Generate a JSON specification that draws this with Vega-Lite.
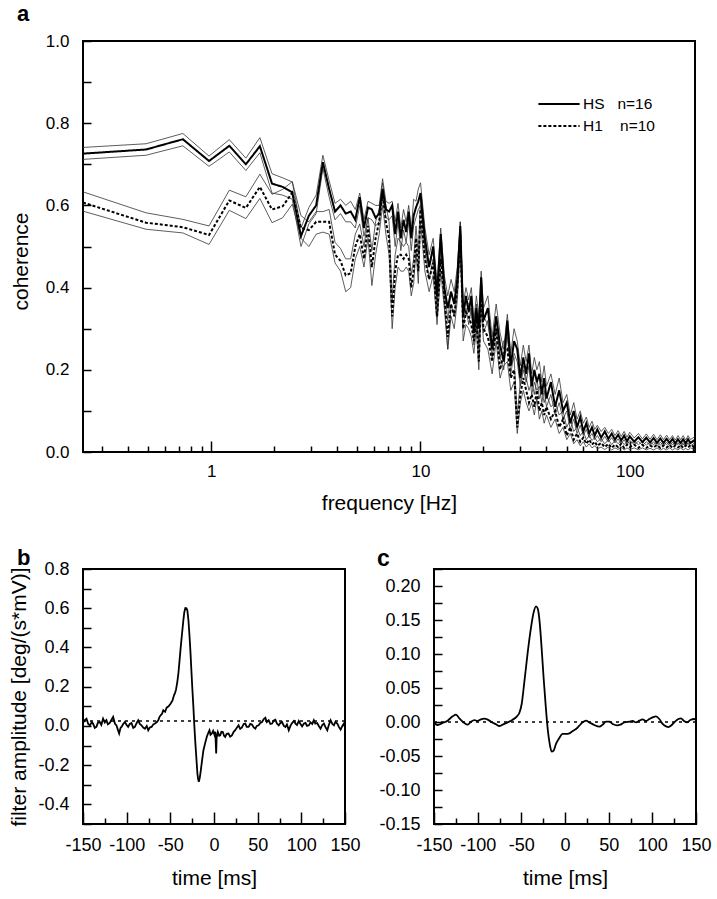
{
  "$schema": "https://vega.github.io/schema/vega-lite/v6.json",
  "background": "white",
  "padding": {"left": 7, "top": 2, "right": 0, "bottom": 0},
  "config": {
    "font": "Liberation Sans",
    "view": {"stroke": "black", "strokeWidth": 2},
    "axis": {"domain": false, "grid": false, "tickColor": "black", "tickWidth": 1.5, "labelColor": "black", "titleColor": "black", "labelFont": "Liberation Sans", "titleFont": "Liberation Sans", "titleFontWeight": "normal", "labelFlush": false, "labelOverlap": false, "labelBound": false},
    "title": {"font": "Liberation Sans", "fontWeight": "bold", "anchor": "start", "frame": "bounds", "color": "black"}
  },
  "datasets": {
    "coh": [
      {"f":0.2441,"hs":0.726,"hsl":0.712,"hsh":0.741,"h1":0.607,"h1l":0.586,"h1h":0.633},
      {"f":0.4883,"hs":0.736,"hsl":0.722,"hsh":0.750,"h1":0.558,"h1l":0.542,"h1h":0.582},
      {"f":0.7324,"hs":0.761,"hsl":0.745,"hsh":0.775,"h1":0.547,"h1l":0.533,"h1h":0.566},
      {"f":0.9766,"hs":0.708,"hsl":0.695,"hsh":0.720,"h1":0.528,"h1l":0.505,"h1h":0.550},
      {"f":1.2207,"hs":0.745,"hsl":0.730,"hsh":0.760,"h1":0.612,"h1l":0.588,"h1h":0.637},
      {"f":1.4648,"hs":0.700,"hsl":0.685,"hsh":0.715,"h1":0.594,"h1l":0.568,"h1h":0.621},
      {"f":1.709,"hs":0.744,"hsl":0.728,"hsh":0.765,"h1":0.645,"h1l":0.617,"h1h":0.676},
      {"f":1.9531,"hs":0.653,"hsl":0.630,"hsh":0.677,"h1":0.590,"h1l":0.558,"h1h":0.627},
      {"f":2.1973,"hs":0.645,"hsl":0.625,"hsh":0.667,"h1":0.598,"h1l":0.570,"h1h":0.639},
      {"f":2.4414,"hs":0.632,"hsl":0.615,"hsh":0.657,"h1":0.631,"h1l":0.603,"h1h":0.658},
      {"f":2.6855,"hs":0.525,"hsl":0.500,"hsh":0.545,"h1":0.545,"h1l":0.520,"h1h":0.575},
      {"f":2.9297,"hs":0.575,"hsl":0.555,"hsh":0.595,"h1":0.540,"h1l":0.500,"h1h":0.560},
      {"f":3.1738,"hs":0.600,"hsl":0.580,"hsh":0.625,"h1":0.560,"h1l":0.530,"h1h":0.585},
      {"f":3.418,"hs":0.705,"hsl":0.690,"hsh":0.722,"h1":0.560,"h1l":0.535,"h1h":0.585},
      {"f":3.6621,"hs":0.640,"hsl":0.620,"hsh":0.660,"h1":0.560,"h1l":0.530,"h1h":0.590},
      {"f":3.9063,"hs":0.585,"hsl":0.565,"hsh":0.605,"h1":0.480,"h1l":0.460,"h1h":0.510},
      {"f":4.1504,"hs":0.600,"hsl":0.580,"hsh":0.615,"h1":0.465,"h1l":0.440,"h1h":0.495},
      {"f":4.3945,"hs":0.580,"hsl":0.560,"hsh":0.600,"h1":0.430,"h1l":0.390,"h1h":0.470},
      {"f":4.6387,"hs":0.585,"hsl":0.560,"hsh":0.610,"h1":0.435,"h1l":0.400,"h1h":0.470},
      {"f":4.8828,"hs":0.565,"hsl":0.545,"hsh":0.590,"h1":0.500,"h1l":0.470,"h1h":0.530},
      {"f":5.127,"hs":0.620,"hsl":0.600,"hsh":0.630,"h1":0.530,"h1l":0.500,"h1h":0.555},
      {"f":5.3711,"hs":0.545,"hsl":0.525,"hsh":0.565,"h1":0.470,"h1l":0.450,"h1h":0.500},
      {"f":5.6152,"hs":0.595,"hsl":0.570,"hsh":0.610,"h1":0.550,"h1l":0.520,"h1h":0.570},
      {"f":5.8594,"hs":0.590,"hsl":0.565,"hsh":0.605,"h1":0.450,"h1l":0.405,"h1h":0.490},
      {"f":6.1035,"hs":0.570,"hsl":0.550,"hsh":0.600,"h1":0.520,"h1l":0.480,"h1h":0.560},
      {"f":6.3477,"hs":0.580,"hsl":0.560,"hsh":0.600,"h1":0.560,"h1l":0.530,"h1h":0.590},
      {"f":6.5918,"hs":0.640,"hsl":0.620,"hsh":0.665,"h1":0.630,"h1l":0.600,"h1h":0.655},
      {"f":6.8359,"hs":0.590,"hsl":0.570,"hsh":0.610,"h1":0.560,"h1l":0.530,"h1h":0.600},
      {"f":7.0801,"hs":0.585,"hsl":0.565,"hsh":0.605,"h1":0.520,"h1l":0.480,"h1h":0.560},
      {"f":7.3242,"hs":0.600,"hsl":0.575,"hsh":0.610,"h1":0.330,"h1l":0.300,"h1h":0.370},
      {"f":7.5684,"hs":0.530,"hsl":0.500,"hsh":0.560,"h1":0.440,"h1l":0.400,"h1h":0.480},
      {"f":7.8125,"hs":0.585,"hsl":0.560,"hsh":0.605,"h1":0.480,"h1l":0.450,"h1h":0.520},
      {"f":8.0566,"hs":0.520,"hsl":0.490,"hsh":0.545,"h1":0.480,"h1l":0.440,"h1h":0.510},
      {"f":8.3008,"hs":0.565,"hsl":0.540,"hsh":0.590,"h1":0.470,"h1l":0.440,"h1h":0.500},
      {"f":8.5449,"hs":0.535,"hsl":0.510,"hsh":0.560,"h1":0.480,"h1l":0.450,"h1h":0.510},
      {"f":8.7891,"hs":0.585,"hsl":0.560,"hsh":0.600,"h1":0.470,"h1l":0.440,"h1h":0.500},
      {"f":9.0332,"hs":0.520,"hsl":0.490,"hsh":0.540,"h1":0.400,"h1l":0.380,"h1h":0.430},
      {"f":9.2773,"hs":0.575,"hsl":0.550,"hsh":0.615,"h1":0.440,"h1l":0.410,"h1h":0.470},
      {"f":9.5215,"hs":0.595,"hsl":0.570,"hsh":0.610,"h1":0.520,"h1l":0.490,"h1h":0.550},
      {"f":9.7656,"hs":0.610,"hsl":0.590,"hsh":0.640,"h1":0.440,"h1l":0.410,"h1h":0.480},
      {"f":10.0098,"hs":0.630,"hsl":0.600,"hsh":0.655,"h1":0.590,"h1l":0.560,"h1h":0.620},
      {"f":10.5,"hs":0.520,"hsl":0.490,"hsh":0.545,"h1":0.470,"h1l":0.440,"h1h":0.500},
      {"f":11.0,"hs":0.450,"hsl":0.420,"hsh":0.480,"h1":0.420,"h1l":0.390,"h1h":0.450},
      {"f":11.5,"hs":0.500,"hsl":0.470,"hsh":0.520,"h1":0.460,"h1l":0.430,"h1h":0.490},
      {"f":12.0,"hs":0.380,"hsl":0.350,"hsh":0.410,"h1":0.330,"h1l":0.310,"h1h":0.360},
      {"f":12.5,"hs":0.530,"hsl":0.500,"hsh":0.545,"h1":0.470,"h1l":0.440,"h1h":0.500},
      {"f":13.0,"hs":0.400,"hsl":0.370,"hsh":0.430,"h1":0.380,"h1l":0.350,"h1h":0.410},
      {"f":13.5,"hs":0.350,"hsl":0.250,"hsh":0.380,"h1":0.280,"h1l":0.250,"h1h":0.320},
      {"f":14.0,"hs":0.390,"hsl":0.360,"hsh":0.420,"h1":0.360,"h1l":0.330,"h1h":0.390},
      {"f":14.5,"hs":0.360,"hsl":0.330,"hsh":0.390,"h1":0.330,"h1l":0.300,"h1h":0.360},
      {"f":15.0,"hs":0.420,"hsl":0.390,"hsh":0.450,"h1":0.400,"h1l":0.370,"h1h":0.430},
      {"f":15.5,"hs":0.550,"hsl":0.520,"hsh":0.560,"h1":0.530,"h1l":0.500,"h1h":0.560},
      {"f":16.0,"hs":0.330,"hsl":0.300,"hsh":0.360,"h1":0.300,"h1l":0.270,"h1h":0.340},
      {"f":16.5,"hs":0.380,"hsl":0.350,"hsh":0.400,"h1":0.340,"h1l":0.310,"h1h":0.370},
      {"f":17.0,"hs":0.340,"hsl":0.310,"hsh":0.370,"h1":0.330,"h1l":0.300,"h1h":0.360},
      {"f":17.5,"hs":0.380,"hsl":0.350,"hsh":0.400,"h1":0.310,"h1l":0.280,"h1h":0.340},
      {"f":18.0,"hs":0.290,"hsl":0.260,"hsh":0.320,"h1":0.270,"h1l":0.240,"h1h":0.300},
      {"f":18.5,"hs":0.350,"hsl":0.320,"hsh":0.380,"h1":0.330,"h1l":0.300,"h1h":0.360},
      {"f":19.0,"hs":0.300,"hsl":0.270,"hsh":0.330,"h1":0.220,"h1l":0.200,"h1h":0.250},
      {"f":19.5,"hs":0.425,"hsl":0.400,"hsh":0.440,"h1":0.380,"h1l":0.350,"h1h":0.410},
      {"f":20.0,"hs":0.320,"hsl":0.290,"hsh":0.350,"h1":0.300,"h1l":0.270,"h1h":0.330},
      {"f":21,"hs":0.350,"hsl":0.320,"hsh":0.380,"h1":0.280,"h1l":0.250,"h1h":0.310},
      {"f":22,"hs":0.250,"hsl":0.230,"hsh":0.280,"h1":0.220,"h1l":0.190,"h1h":0.250},
      {"f":23,"hs":0.330,"hsl":0.300,"hsh":0.360,"h1":0.300,"h1l":0.270,"h1h":0.330},
      {"f":24,"hs":0.260,"hsl":0.230,"hsh":0.290,"h1":0.200,"h1l":0.180,"h1h":0.230},
      {"f":25,"hs":0.220,"hsl":0.200,"hsh":0.250,"h1":0.240,"h1l":0.210,"h1h":0.270},
      {"f":26,"hs":0.320,"hsl":0.290,"hsh":0.335,"h1":0.250,"h1l":0.220,"h1h":0.280},
      {"f":27,"hs":0.210,"hsl":0.190,"hsh":0.240,"h1":0.180,"h1l":0.150,"h1h":0.210},
      {"f":28,"hs":0.270,"hsl":0.240,"hsh":0.300,"h1":0.200,"h1l":0.170,"h1h":0.230},
      {"f":29,"hs":0.250,"hsl":0.220,"hsh":0.270,"h1":0.060,"h1l":0.045,"h1h":0.090},
      {"f":30,"hs":0.180,"hsl":0.160,"hsh":0.210,"h1":0.140,"h1l":0.120,"h1h":0.170},
      {"f":31,"hs":0.230,"hsl":0.200,"hsh":0.260,"h1":0.180,"h1l":0.150,"h1h":0.210},
      {"f":32,"hs":0.190,"hsl":0.170,"hsh":0.220,"h1":0.150,"h1l":0.120,"h1h":0.180},
      {"f":33,"hs":0.240,"hsl":0.210,"hsh":0.260,"h1":0.120,"h1l":0.100,"h1h":0.150},
      {"f":34,"hs":0.160,"hsl":0.140,"hsh":0.190,"h1":0.140,"h1l":0.120,"h1h":0.170},
      {"f":35,"hs":0.200,"hsl":0.170,"hsh":0.230,"h1":0.110,"h1l":0.090,"h1h":0.140},
      {"f":36,"hs":0.170,"hsl":0.150,"hsh":0.200,"h1":0.150,"h1l":0.130,"h1h":0.180},
      {"f":37,"hs":0.190,"hsl":0.160,"hsh":0.220,"h1":0.100,"h1l":0.080,"h1h":0.130},
      {"f":38,"hs":0.140,"hsl":0.120,"hsh":0.170,"h1":0.120,"h1l":0.100,"h1h":0.150},
      {"f":39,"hs":0.180,"hsl":0.150,"hsh":0.210,"h1":0.090,"h1l":0.070,"h1h":0.120},
      {"f":40,"hs":0.130,"hsl":0.110,"hsh":0.160,"h1":0.110,"h1l":0.090,"h1h":0.140},
      {"f":42,"hs":0.170,"hsl":0.140,"hsh":0.190,"h1":0.080,"h1l":0.060,"h1h":0.110},
      {"f":44,"hs":0.110,"hsl":0.090,"hsh":0.140,"h1":0.100,"h1l":0.080,"h1h":0.120},
      {"f":46,"hs":0.150,"hsl":0.120,"hsh":0.180,"h1":0.060,"h1l":0.045,"h1h":0.090},
      {"f":48,"hs":0.100,"hsl":0.080,"hsh":0.120,"h1":0.080,"h1l":0.060,"h1h":0.100},
      {"f":50,"hs":0.120,"hsl":0.100,"hsh":0.140,"h1":0.040,"h1l":0.030,"h1h":0.060},
      {"f":52,"hs":0.070,"hsl":0.055,"hsh":0.090,"h1":0.060,"h1l":0.045,"h1h":0.080},
      {"f":54,"hs":0.100,"hsl":0.080,"hsh":0.120,"h1":0.030,"h1l":0.020,"h1h":0.050},
      {"f":56,"hs":0.060,"hsl":0.045,"hsh":0.080,"h1":0.045,"h1l":0.030,"h1h":0.060},
      {"f":58,"hs":0.085,"hsl":0.065,"hsh":0.100,"h1":0.025,"h1l":0.015,"h1h":0.040},
      {"f":60,"hs":0.050,"hsl":0.040,"hsh":0.070,"h1":0.035,"h1l":0.025,"h1h":0.050},
      {"f":62,"hs":0.070,"hsl":0.055,"hsh":0.085,"h1":0.020,"h1l":0.012,"h1h":0.030},
      {"f":64,"hs":0.045,"hsl":0.035,"hsh":0.060,"h1":0.030,"h1l":0.020,"h1h":0.040},
      {"f":66,"hs":0.060,"hsl":0.045,"hsh":0.075,"h1":0.018,"h1l":0.010,"h1h":0.028},
      {"f":68,"hs":0.040,"hsl":0.030,"hsh":0.055,"h1":0.025,"h1l":0.015,"h1h":0.035},
      {"f":70,"hs":0.055,"hsl":0.040,"hsh":0.065,"h1":0.015,"h1l":0.008,"h1h":0.025},
      {"f":73,"hs":0.035,"hsl":0.025,"hsh":0.050,"h1":0.022,"h1l":0.012,"h1h":0.032},
      {"f":76,"hs":0.050,"hsl":0.038,"hsh":0.060,"h1":0.012,"h1l":0.006,"h1h":0.020},
      {"f":79,"hs":0.032,"hsl":0.024,"hsh":0.045,"h1":0.020,"h1l":0.012,"h1h":0.030},
      {"f":82,"hs":0.045,"hsl":0.035,"hsh":0.055,"h1":0.010,"h1l":0.005,"h1h":0.018},
      {"f":85,"hs":0.030,"hsl":0.022,"hsh":0.040,"h1":0.018,"h1l":0.010,"h1h":0.028},
      {"f":88,"hs":0.042,"hsl":0.032,"hsh":0.052,"h1":0.012,"h1l":0.006,"h1h":0.020},
      {"f":91,"hs":0.028,"hsl":0.020,"hsh":0.038,"h1":0.020,"h1l":0.012,"h1h":0.028},
      {"f":94,"hs":0.040,"hsl":0.030,"hsh":0.050,"h1":0.010,"h1l":0.005,"h1h":0.018},
      {"f":97,"hs":0.026,"hsl":0.018,"hsh":0.036,"h1":0.018,"h1l":0.010,"h1h":0.026},
      {"f":100,"hs":0.038,"hsl":0.028,"hsh":0.048,"h1":0.012,"h1l":0.006,"h1h":0.020},
      {"f":105,"hs":0.025,"hsl":0.018,"hsh":0.034,"h1":0.018,"h1l":0.010,"h1h":0.026},
      {"f":110,"hs":0.036,"hsl":0.026,"hsh":0.045,"h1":0.010,"h1l":0.005,"h1h":0.018},
      {"f":115,"hs":0.024,"hsl":0.016,"hsh":0.032,"h1":0.017,"h1l":0.010,"h1h":0.025},
      {"f":120,"hs":0.035,"hsl":0.025,"hsh":0.044,"h1":0.010,"h1l":0.005,"h1h":0.017},
      {"f":125,"hs":0.023,"hsl":0.016,"hsh":0.031,"h1":0.016,"h1l":0.009,"h1h":0.024},
      {"f":130,"hs":0.034,"hsl":0.025,"hsh":0.043,"h1":0.011,"h1l":0.005,"h1h":0.018},
      {"f":135,"hs":0.022,"hsl":0.015,"hsh":0.030,"h1":0.017,"h1l":0.010,"h1h":0.025},
      {"f":140,"hs":0.033,"hsl":0.024,"hsh":0.042,"h1":0.010,"h1l":0.005,"h1h":0.017},
      {"f":145,"hs":0.022,"hsl":0.015,"hsh":0.030,"h1":0.016,"h1l":0.009,"h1h":0.024},
      {"f":150,"hs":0.032,"hsl":0.024,"hsh":0.041,"h1":0.011,"h1l":0.005,"h1h":0.018},
      {"f":155,"hs":0.022,"hsl":0.015,"hsh":0.030,"h1":0.017,"h1l":0.010,"h1h":0.025},
      {"f":160,"hs":0.032,"hsl":0.024,"hsh":0.040,"h1":0.010,"h1l":0.005,"h1h":0.017},
      {"f":165,"hs":0.021,"hsl":0.015,"hsh":0.029,"h1":0.016,"h1l":0.009,"h1h":0.024},
      {"f":170,"hs":0.031,"hsl":0.023,"hsh":0.040,"h1":0.011,"h1l":0.005,"h1h":0.018},
      {"f":175,"hs":0.022,"hsl":0.015,"hsh":0.030,"h1":0.017,"h1l":0.010,"h1h":0.025},
      {"f":180,"hs":0.031,"hsl":0.023,"hsh":0.040,"h1":0.010,"h1l":0.005,"h1h":0.017},
      {"f":185,"hs":0.021,"hsl":0.015,"hsh":0.029,"h1":0.016,"h1l":0.009,"h1h":0.024},
      {"f":190,"hs":0.031,"hsl":0.023,"hsh":0.040,"h1":0.011,"h1l":0.005,"h1h":0.018},
      {"f":195,"hs":0.022,"hsl":0.015,"hsh":0.030,"h1":0.017,"h1l":0.010,"h1h":0.025},
      {"f":205,"hs":0.030,"hsl":0.022,"hsh":0.038,"h1":0.012,"h1l":0.006,"h1h":0.020}
    ],
    "pb": [
      {"t":-150,"a":0.015},{"t":-148,"a":0.030},{"t":-146,"a":0.037},{"t":-144,"a":0.010},{"t":-142,"a":0.003},{"t":-140,"a":0.020},{"t":-138.5,"a":0.012},{"t":-136.5,"a":-0.010},{"t":-134.7,"a":-0.005},{"t":-133,"a":0.015},{"t":-130.8,"a":0.020},{"t":-129,"a":0.005},{"t":-127,"a":0.037},{"t":-125,"a":0.018},{"t":-123.2,"a":0.029},{"t":-121.5,"a":0.008},{"t":-119.4,"a":0.015},{"t":-117.5,"a":0.030},{"t":-115.5,"a":0.046},{"t":-113.5,"a":0.012},{"t":-111.7,"a":0.003},{"t":-110,"a":-0.020},{"t":-108.6,"a":-0.039},{"t":-107,"a":-0.010},{"t":-105.9,"a":-0.005},{"t":-104,"a":0.010},{"t":-102.1,"a":0.020},{"t":-100,"a":0.005},{"t":-98.3,"a":-0.005},{"t":-96.5,"a":0.010},{"t":-94.5,"a":0.015},{"t":-92.5,"a":-0.010},{"t":-90.6,"a":-0.005},{"t":-88.5,"a":0.015},{"t":-86.8,"a":0.029},{"t":-85,"a":0.010},{"t":-83,"a":0.003},{"t":-81,"a":-0.008},{"t":-79.1,"a":-0.014},{"t":-77,"a":0.000},{"t":-75.3,"a":-0.022},{"t":-73.5,"a":-0.008},{"t":-71.5,"a":-0.005},{"t":-69.5,"a":0.008},{"t":-67.6,"a":0.012},{"t":-65.5,"a":0.020},{"t":-63.8,"a":0.029},{"t":-62.5,"a":0.045},{"t":-61.1,"a":0.054},{"t":-59.5,"a":0.062},{"t":-58.1,"a":0.080},{"t":-56,"a":0.072},{"t":-54.2,"a":0.093},{"t":-52,"a":0.100},{"t":-49.6,"a":0.114},{"t":-47.5,"a":0.130},{"t":-45.8,"a":0.156},{"t":-44.5,"a":0.170},{"t":-43.5,"a":0.185},{"t":-42,"a":0.225},{"t":-40.8,"a":0.267},{"t":-39.5,"a":0.330},{"t":-38.1,"a":0.402},{"t":-36.5,"a":0.475},{"t":-35.1,"a":0.538},{"t":-34,"a":0.580},{"t":-32.8,"a":0.601},{"t":-31.5,"a":0.600},{"t":-30.5,"a":0.589},{"t":-29.3,"a":0.540},{"t":-28.2,"a":0.470},{"t":-27,"a":0.380},{"t":-25.9,"a":0.284},{"t":-24.8,"a":0.190},{"t":-23.6,"a":0.097},{"t":-22.5,"a":0.000},{"t":-21.3,"a":-0.090},{"t":-20.1,"a":-0.170},{"t":-19.0,"a":-0.243},{"t":-18.2,"a":-0.270},{"t":-17.4,"a":-0.285},{"t":-16.3,"a":-0.265},{"t":-15.1,"a":-0.226},{"t":-13.5,"a":-0.170},{"t":-12.1,"a":-0.124},{"t":-10,"a":-0.085},{"t":-8.3,"a":-0.056},{"t":-6.5,"a":-0.035},{"t":-5.2,"a":-0.022},{"t":-4,"a":-0.045},{"t":-2.5,"a":-0.039},{"t":-1,"a":-0.025},{"t":0.5,"a":-0.045},{"t":1.5,"a":-0.030},{"t":2.5,"a":-0.141},{"t":3.0,"a":-0.060},{"t":4.4,"a":-0.031},{"t":6,"a":-0.050},{"t":7.1,"a":-0.048},{"t":8.5,"a":-0.030},{"t":10.1,"a":-0.031},{"t":11.5,"a":-0.050},{"t":12.8,"a":-0.056},{"t":14.5,"a":-0.040},{"t":16.6,"a":-0.039},{"t":18.5,"a":-0.055},{"t":20.5,"a":-0.048},{"t":22.5,"a":-0.030},{"t":24.3,"a":-0.022},{"t":26,"a":-0.010},{"t":28.1,"a":0.003},{"t":30,"a":-0.015},{"t":32,"a":-0.008},{"t":34,"a":0.010},{"t":35.8,"a":0.012},{"t":37.5,"a":-0.005},{"t":39.6,"a":-0.005},{"t":41.5,"a":0.010},{"t":43.5,"a":0.007},{"t":45.5,"a":-0.008},{"t":47.3,"a":-0.014},{"t":49,"a":0.000},{"t":51.1,"a":0.003},{"t":53,"a":0.015},{"t":55,"a":0.020},{"t":57,"a":0.035},{"t":58.8,"a":0.042},{"t":60.5,"a":0.020},{"t":62.6,"a":0.029},{"t":64.5,"a":0.010},{"t":66.5,"a":0.012},{"t":68.5,"a":0.028},{"t":70.3,"a":0.032},{"t":72,"a":0.012},{"t":74.1,"a":0.003},{"t":76,"a":0.015},{"t":77.9,"a":0.020},{"t":80,"a":0.000},{"t":81.8,"a":-0.005},{"t":83.5,"a":0.008},{"t":85.6,"a":-0.022},{"t":87.5,"a":0.000},{"t":89.4,"a":0.015},{"t":91.5,"a":0.025},{"t":93.3,"a":0.012},{"t":95,"a":0.005},{"t":97.1,"a":0.025},{"t":99,"a":0.010},{"t":100.9,"a":-0.002},{"t":103,"a":0.012},{"t":104.8,"a":0.015},{"t":106.5,"a":0.000},{"t":108.6,"a":0.003},{"t":110.5,"a":0.018},{"t":112.5,"a":0.010},{"t":114.3,"a":0.029},{"t":116,"a":0.012},{"t":118.2,"a":0.015},{"t":120,"a":0.000},{"t":122,"a":-0.014},{"t":124,"a":0.005},{"t":125.8,"a":0.012},{"t":127.5,"a":-0.005},{"t":129.7,"a":-0.022},{"t":131.5,"a":0.005},{"t":133.5,"a":0.029},{"t":135.5,"a":0.010},{"t":137.3,"a":0.003},{"t":139,"a":0.020},{"t":141.2,"a":0.012},{"t":143,"a":-0.005},{"t":145,"a":-0.019},{"t":147,"a":0.000},{"t":148.5,"a":0.010},{"t":150,"a":-0.005}
    ],
    "pc": [
      {"t":-150,"a":-0.0015},{"t":-145.8,"a":-0.0044},{"t":-140.1,"a":-0.0015},{"t":-134.4,"a":0.0020},{"t":-128.6,"a":0.0083},{"t":-124.8,"a":0.0108},{"t":-121.0,"a":0.0054},{"t":-115.3,"a":-0.0015},{"t":-111.4,"a":-0.0039},{"t":-107.6,"a":0.0005},{"t":-103.8,"a":0.0029},{"t":-100.0,"a":0.0015},{"t":-96.2,"a":0.0039},{"t":-92.4,"a":0.0049},{"t":-88.5,"a":0.0034},{"t":-84.7,"a":0.0005},{"t":-79.0,"a":-0.0034},{"t":-75.2,"a":-0.0059},{"t":-71.4,"a":-0.0039},{"t":-65.6,"a":-0.0005},{"t":-59.9,"a":0.0034},{"t":-55.0,"a":0.0083},{"t":-52.3,"a":0.0132},{"t":-49.6,"a":0.0265},{"t":-46.6,"a":0.0583},{"t":-42.7,"a":0.1024},{"t":-38.9,"a":0.1392},{"t":-35.9,"a":0.1612},{"t":-33.2,"a":0.1700},{"t":-31.3,"a":0.1671},{"t":-29.0,"a":0.1465},{"t":-26.7,"a":0.1073},{"t":-24.4,"a":0.0632},{"t":-22.1,"a":0.0240},{"t":-19.8,"a":-0.0103},{"t":-17.5,"a":-0.0323},{"t":-15.3,"a":-0.0436},{"t":-13.0,"a":-0.0421},{"t":-10.3,"a":-0.0323},{"t":-6.5,"a":-0.0235},{"t":-2.7,"a":-0.0176},{"t":1.2,"a":-0.0176},{"t":5.0,"a":-0.0167},{"t":8.8,"a":-0.0132},{"t":12.6,"a":-0.0103},{"t":16.4,"a":-0.0054},{"t":20.2,"a":-0.0005},{"t":24.1,"a":0.0020},{"t":27.9,"a":-0.0005},{"t":33.6,"a":-0.0044},{"t":39.3,"a":-0.0069},{"t":43.1,"a":-0.0039},{"t":47.0,"a":0.0005},{"t":50.8,"a":0.0005},{"t":54.6,"a":-0.0029},{"t":59.6,"a":-0.0049},{"t":64.1,"a":-0.0034},{"t":67.9,"a":-0.0005},{"t":73.7,"a":0.0005},{"t":77.5,"a":0.0015},{"t":81.3,"a":-0.0005},{"t":85.1,"a":0.0020},{"t":88.9,"a":0.0039},{"t":92.8,"a":0.0015},{"t":96.6,"a":0.0044},{"t":100.4,"a":0.0069},{"t":104.2,"a":0.0083},{"t":108.0,"a":0.0044},{"t":111.8,"a":-0.0029},{"t":115.7,"a":-0.0064},{"t":118.3,"a":-0.0074},{"t":122.2,"a":-0.0044},{"t":126.0,"a":0.0005},{"t":129.8,"a":0.0044},{"t":132.8,"a":0.0054},{"t":135.9,"a":0.0020},{"t":139.7,"a":-0.0005},{"t":143.5,"a":0.0029},{"t":148.1,"a":0.0044},{"t":150,"a":0.0034}
    ]
  },
  "spacing": 32,
  "vconcat": [
    {
      "hconcat": [
        {
          "width": 612,
          "height": 411,
          "title": {"text": "a", "fontSize": 22, "offset": 6, "frame": "group", "dx": -66},
          "data": {"name": "coh"},
          "encoding": {
            "x": {"field": "f", "type": "quantitative", "scale": {"type": "log", "domain": [0.2441, 205], "nice": false},
              "axis": {"values": [0.3,0.4,0.5,0.6,0.7,0.8,0.9,1,2,3,4,5,6,7,8,9,10,20,30,40,50,60,70,80,90,100,200],
                "labelExpr": "indexof([1,10,100], datum.value) >= 0 ? datum.label : ''",
                "tickSize": {"condition": {"test": "indexof([1,10,100], datum.value) >= 0", "value": -11}, "value": -6},
                "labelOverlap": false,
                "labelPadding": 22, "labelFontSize": 17, "title": "frequency [Hz]", "titleFontSize": 21, "titlePadding": 8}},
            "y": {"field": "val", "type": "quantitative", "scale": {"domain": [0, 1], "nice": false},
              "axis": {"values": [0,0.1,0.2,0.3,0.4,0.5,0.6,0.7,0.8,0.9,1], "format": ".1f",
                "labelExpr": "round(datum.value*10) % 2 == 0 ? datum.label : ''",
                "labelOverlap": false,
                "tickSize": -8, "labelPadding": 22, "labelFontSize": 17, "title": "coherence", "titleFontSize": 21, "titlePadding": 14, "titleY": 220}}
          },
          "layer": [
            {
              "transform": [{"fold": ["hsl", "hsh", "h1l", "h1h"], "as": ["band", "val"]}],
              "mark": {"type": "line", "color": "#333333", "strokeWidth": 0.8},
              "encoding": {"detail": {"field": "band", "type": "nominal"}}
            },
            {
              "transform": [{"fold": ["hs", "h1"], "as": ["series", "val"]}],
              "mark": {"type": "line", "color": "black", "strokeWidth": 2},
              "encoding": {
                "strokeDash": {"field": "series", "type": "nominal",
                  "scale": {"domain": ["hs", "h1"], "range": [[1, 0], [3, 2]]},
                  "legend": {"orient": "none", "legendX": 454, "legendY": 55, "title": null, "symbolType": "stroke", "symbolSize": 1700, "symbolStrokeWidth": 2, "symbolStrokeColor": "black", "labelFontSize": 15.5, "labelFont": "Liberation Sans", "labelColor": "black", "labelOffset": 2, "rowPadding": 5, "clipHeight": 16,
                    "labelExpr": "datum.value == 'hs' ? 'HS\u00a0\u00a0\u00a0n=16' : 'H1\u00a0\u00a0\u00a0\u00a0n=10'"}
                }
              }
            }
          ]
        }
      ]
    },
    {
      "spacing": 13,
      "hconcat": [
        {
          "width": 262,
          "height": 255,
          "title": {"text": "b", "fontSize": 22, "offset": -10, "dx": 8},
          "encoding": {
            "y": {"field": "a", "type": "quantitative", "scale": {"domain": [-0.5, 0.8], "nice": false},
              "axis": {"values": [-0.5,-0.4,-0.3,-0.2,-0.1,0,0.1,0.2,0.3,0.4,0.5,0.6,0.7,0.8], "format": ".1f",
                "labelExpr": "round(datum.value*10) % 2 == 0 && datum.value > -0.45 ? replace(datum.label, '\u2212', '-') : ''",
                "labelOverlap": false,
                "tickSize": -8, "labelPadding": 22, "labelFontSize": 18, "title": "filter amplitude [deg/(s*mV)]", "titleFontSize": 21, "titlePadding": 8}}
          },
          "layer": [
            {
              "data": {"name": "pb"},
              "mark": {"type": "line", "color": "black", "strokeWidth": 1.8},
              "encoding": {
                "x": {"field": "t", "type": "quantitative", "scale": {"domain": [-150, 150], "nice": false},
                  "axis": {"values": [-150,-125,-100,-75,-50,-25,0,25,50,75,100,125,150],
                    "labelExpr": "datum.value % 50 == 0 ? replace(datum.label, '\u2212', '-') : ''",
                    "tickSize": {"condition": {"test": "datum.value % 50 == 0", "value": -12}, "value": -6},
                    "labelOverlap": false,
                    "labelPadding": 24, "labelFontSize": 18, "title": "time [ms]", "titleFontSize": 21, "titlePadding": 7}}
              }
            },
            {
              "data": {"values": [{"a": 0.025}]},
              "mark": {"type": "rule", "color": "black", "strokeWidth": 1.5, "strokeDash": [3, 4]}
            }
          ]
        },
        {
          "width": 262,
          "height": 255,
          "title": {"text": "c", "fontSize": 23, "offset": -11, "dx": -2},
          "encoding": {
            "y": {"field": "a", "type": "quantitative", "scale": {"domain": [-0.15, 0.225], "nice": false},
              "axis": {"values": [-0.15,-0.125,-0.1,-0.075,-0.05,-0.025,0,0.025,0.05,0.075,0.1,0.125,0.15,0.175,0.2,0.225], "format": ".2f",
                "labelExpr": "round(datum.value*1000) % 50 == 0 && datum.value < 0.22 ? replace(datum.label, '\u2212', '-') : ''",
                "labelOverlap": false,
                "tickSize": -8, "labelPadding": 22, "labelFontSize": 18, "title": null}}
          },
          "layer": [
            {
              "data": {"name": "pc"},
              "mark": {"type": "line", "color": "black", "strokeWidth": 1.8, "interpolate": "monotone"},
              "encoding": {
                "x": {"field": "t", "type": "quantitative", "scale": {"domain": [-150, 150], "nice": false},
                  "axis": {"values": [-150,-125,-100,-75,-50,-25,0,25,50,75,100,125,150],
                    "labelExpr": "datum.value % 50 == 0 ? replace(datum.label, '\u2212', '-') : ''",
                    "tickSize": {"condition": {"test": "datum.value % 50 == 0", "value": -12}, "value": -6},
                    "labelOverlap": false,
                    "labelPadding": 24, "labelFontSize": 18, "title": "time [ms]", "titleFontSize": 21, "titlePadding": 7}}
              }
            },
            {
              "data": {"values": [{"a": 0}]},
              "mark": {"type": "rule", "color": "black", "strokeWidth": 1.5, "strokeDash": [3, 4]}
            }
          ]
        }
      ]
    }
  ]
}
